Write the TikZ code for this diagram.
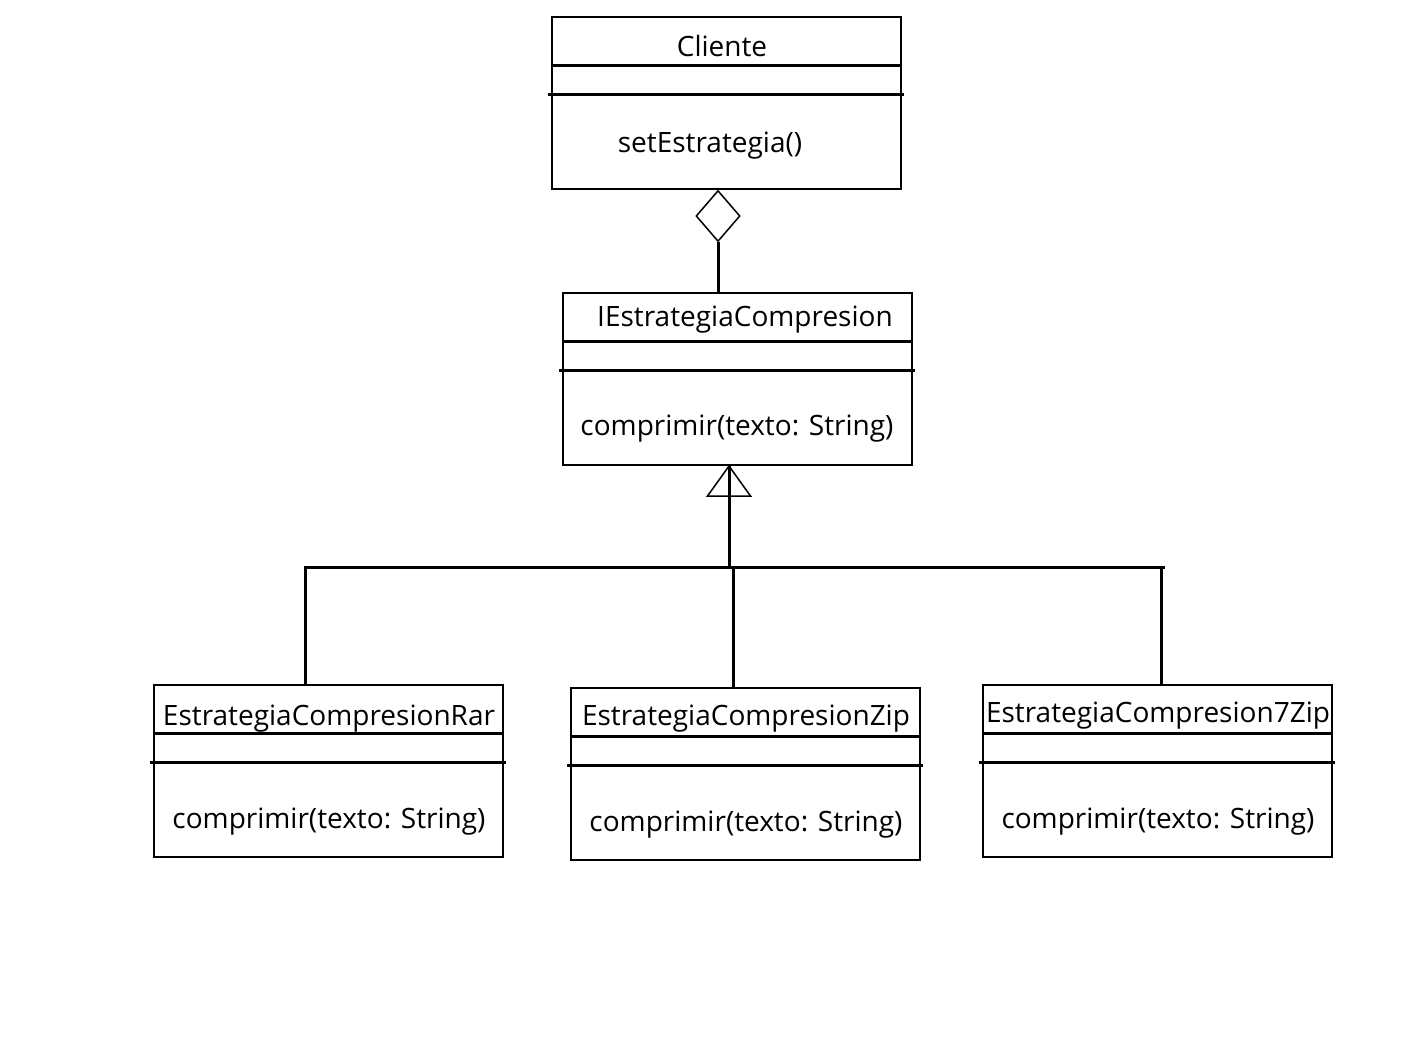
\documentclass[tikz,border=0pt]{standalone}
\usepackage{fontspec}
\setmainfont{Open Sans}
\usetikzlibrary{shapes.geometric}

\tikzset{
    classbox/.style={draw, line width=1pt, minimum width=174.5pt, minimum height=86pt, inner sep=0pt},
    sepline/.style={line width=1.5pt},
    link/.style={line width=1.5pt},
    thinlink/.style={line width=0.75pt},
    txt/.style={anchor=base, inner sep=0pt, font=\fontsize{14}{17}\selectfont}
}

\begin{document}
\begin{tikzpicture}[x=0.5pt, y=-0.5pt]
        \useasboundingbox (0,0) rectangle (1422,1044);

        % Class boxes
        \node[classbox] (cliente) at (726.5,103) {};
        \node[classbox] (ief) at (737.5,379) {};
        \node[classbox] (rar) at (328,771) {};
        \node[classbox] (zip) at (745,774) {};
        \node[classbox] (siete) at (1157,771) {};

        % Compartment lines
        \foreach \b in {cliente, ief, rar, zip, siete} {
            \draw[sepline] ([yshift=-24.5pt]\b.north west) -- ([yshift=-24.5pt]\b.north east);
            \draw[sepline] ([xshift=-1.5pt, yshift=-39pt]\b.north west) -- ([xshift=1pt, yshift=-39pt]\b.north east);
        }

        % Class names and methods
        \node[txt] (tcliente) at (722,56) {Cliente};
        \node[txt] (mcliente) at (710,152) {setEstrategia()};
        \node[txt] (tief) at (745,326) {IEstrategiaCompresion};
        \node[txt] (mief) at (737,435) {comprimir(texto: String)};
        \node[txt] (trar) at (329,725) {EstrategiaCompresionRar};
        \node[txt] (mrar) at (329,828) {comprimir(texto: String)};
        \node[txt] (tzip) at (746,725) {EstrategiaCompresionZip};
        \node[txt] (mzip) at (746,831) {comprimir(texto: String)};
        \node[txt] (tsiete) at (1158,722) {EstrategiaCompresion7Zip};
        \node[txt] (msiete) at (1158,828) {comprimir(texto: String)};

        % Aggregation
        \node[diamond, draw, thinlink, minimum width=22pt, minimum height=25.5pt, inner sep=0pt] (agg) at (718,216) {};
        \draw[link] (agg.south) -- (agg.south |- ief.north);

        % Generalization
        \coordinate (hub) at (729,567);
        \coordinate (barL) at (304,567);
        \coordinate (barR) at (1165,567);
        \draw[link] (hub) -- (hub |- ief.south);
        \draw[thinlink] (hub |- ief.south) -- ++(-21.5,30) -- ++(43,0) -- cycle;
        \draw[link] (barL) -- (barR);
        \draw[link] ([xshift=-11.5pt]rar.north |- hub) -- ([xshift=-11.5pt]rar.north);
        \draw[link] ([xshift=-6pt]zip.north |- hub) -- ([xshift=-6pt]zip.north);
        \draw[link] ([xshift=2pt]siete.north |- hub) -- ([xshift=2pt]siete.north);
    \end{tikzpicture}
\end{document}
